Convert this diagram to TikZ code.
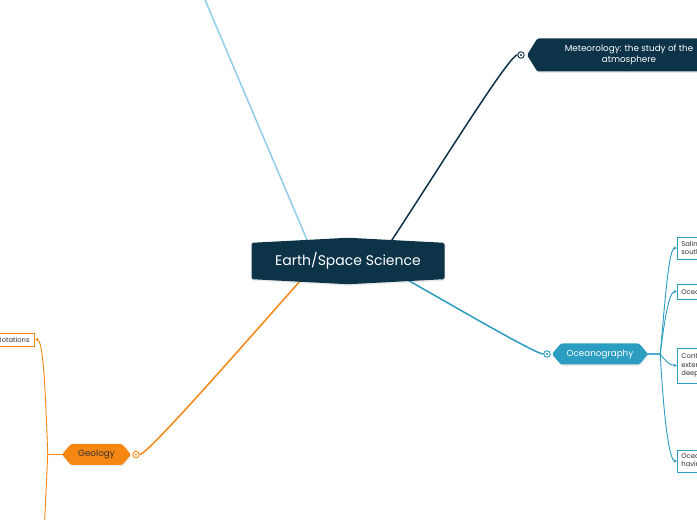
\documentclass[tikz,border=0pt]{standalone}
\usepackage{fontspec}
\setmainfont{Poppins}
\usepackage{tikz}
\usetikzlibrary{arrows.meta, shapes.symbols, positioning, calc, shadows, backgrounds}
\definecolor{navy}{HTML}{0D3349}
\definecolor{skyline}{HTML}{8FCDEA}
\definecolor{oceanteal}{HTML}{2A9DC0}
\definecolor{geoorange}{HTML}{F68712}
\definecolor{leaftext}{HTML}{333333}

\begin{document}
\begin{tikzpicture}[x=1pt,y=1pt,>={Stealth[length=3.5pt,width=3.2pt]},
  hexnode/.style={shape=signal,signal to=west and east,inner sep=0pt,rounded corners=1.5pt,
    drop shadow={opacity=0.18,shadow xshift=0.8pt,shadow yshift=-1.4pt}},
  enddot/.style={circle,draw=#1,fill=white,line width=0.9pt,minimum size=6.5pt,inner sep=0pt,
    path picture={\fill[#1] (path picture bounding box.center) circle (1.1pt);}},
  leaf/.style={draw=#1,fill=white,line width=0.8pt,anchor=west,align=left,text=leaftext,
    font=\fontsize{6.8}{8.6}\selectfont,inner xsep=4pt,inner ysep=2pt},
  mainline/.style={line width=1.5pt},
  twigline/.style={line width=0.9pt}]
\useasboundingbox (0,0) rectangle (697,520);
\clip (0,0) rectangle (697,520);

\node[hexnode,signal to=north and south,signal pointer angle=174,fill=navy,text=white,
  minimum width=193pt,minimum height=44pt,font=\fontsize{14}{16}\selectfont] (earth) at (348,259) {Earth/Space Science};

\node[hexnode,signal pointer angle=116,fill=navy,text=white,align=center,
  minimum width=204pt,minimum height=33pt,font=\fontsize{8.8}{11}\selectfont] (meteo) at (629,465) {Meteorology: the study of the\\atmosphere};
\node[enddot=navy] (meteodot) at (521,465) {};

\node[hexnode,signal pointer angle=100,fill=oceanteal,text=white,
  minimum width=96pt,minimum height=21pt,font=\fontsize{8.8}{10}\selectfont] (ocean) at (600,166) {Oceanography};
\node[enddot=oceanteal] (oceandot) at (547,166) {};

\node[hexnode,signal pointer angle=100,fill=geoorange,text=leaftext,
  minimum width=69pt,minimum height=21pt,font=\fontsize{8.8}{10}\selectfont] (geology) at (96.5,65.5) {Geology};
\node[enddot=geoorange] (geodot) at (136,65.5) {};

\node[leaf=oceanteal,minimum height=22pt] (salinity) at (677,272) {Salinity is higher in the\\southern seas};
\node[leaf=oceanteal,minimum height=15pt] (oceanfloor) at (677,228.5) {Ocean floor features};
\node[leaf=oceanteal,minimum height=35pt] (shelf) at (677,154.5) {Continental shelf\\extends toward\\deeper water};
\node[leaf=oceanteal,minimum height=22pt] (currents) at (677,59) {Ocean currents\\having patterns};
\node[leaf=geoorange,anchor=east,minimum height=13pt,inner xsep=5pt] (rotations) at (35,180.5) {Rotations};

\coordinate (skyend) at (200,532);
\coordinate (geoend) at (44,-15);
\coordinate (oceanjoin) at ($(ocean.east)+(12,0)$);
\coordinate (geojoin) at ($(geology.west)+(-14,0)$);

\begin{scope}[on background layer]
\fill[white] (0,0) rectangle (697,520);
\draw[skyline,mainline] ($(earth.center)+(-32,0)$) -- (skyend);
\draw[navy,mainline] ($(earth.center)+(30,0)$) to[out=56,in=180,out distance=80pt,in distance=9pt] (meteodot);
\draw[oceanteal,mainline] ($(earth.center)+(26,0)$) to[out=-29,in=180,out distance=60pt,in distance=9pt] (oceandot);
\draw[geoorange,mainline] ($(earth.center)+(-30,0)$) to[out=-132,in=0,out distance=80pt,in distance=9pt] (geodot);
\foreach \leafname/\ang/\dist in {salinity/85/60, oceanfloor/83/35, shelf/-55/6, currents/-87/60}
  \draw[oceanteal,twigline,->] (ocean.center) -- (oceanjoin) to[out=\ang,in=180,out distance=\dist pt,in distance=8pt] (\leafname.west);
\draw[geoorange,twigline,->] (geology.center) -- (geojoin) to[out=92,in=0,out distance=70pt,in distance=8pt] (rotations.east);
\draw[geoorange,twigline] (geojoin) -- (geoend);
\end{scope}
\end{tikzpicture}
\end{document}
